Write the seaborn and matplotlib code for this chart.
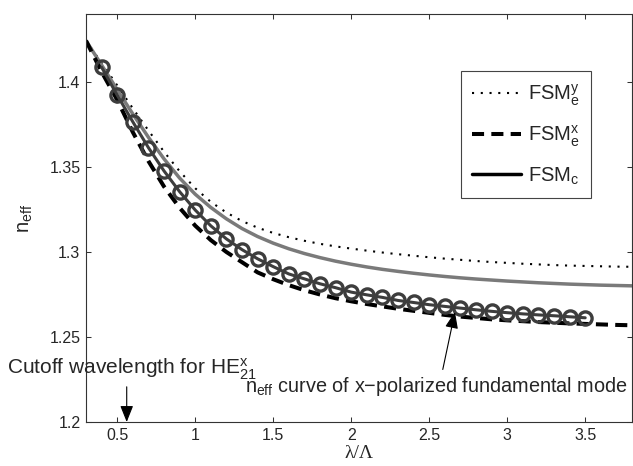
#! /usr/bin/env python3

import numpy as np
import pandas as pd
import matplotlib
matplotlib.use('Agg')
import matplotlib.pyplot as plt
from matplotlib.lines import Line2D
import seaborn as sns

# normalised wavelength lambda/Lambda
x_curve = [0.3, 0.4, 0.5, 0.6, 0.7, 0.8, 0.9, 1.0, 1.1, 1.2, 1.3, 1.4, 1.5, 1.6,
           1.7, 1.8, 1.9, 2.0, 2.1, 2.2, 2.3, 2.4, 2.5, 2.6, 2.7, 2.8, 2.9, 3.0,
           3.1, 3.2, 3.3, 3.4, 3.5, 3.6, 3.7, 3.8]
# FSM_e^y (dotted)
n_fsm_ey = [1.4243, 1.4112, 1.3980, 1.3845, 1.3715, 1.3590, 1.3475, 1.3375, 1.3295,
            1.3232, 1.3182, 1.3143, 1.3112, 1.3087, 1.3066, 1.3048, 1.3033, 1.3020,
            1.3008, 1.2997, 1.2987, 1.2978, 1.2969, 1.2961, 1.2954, 1.2947, 1.2941,
            1.2936, 1.2931, 1.2927, 1.2923, 1.2920, 1.2918, 1.2916, 1.2914, 1.2913]
# FSM_e^x (dashed)
n_fsm_ex = [1.4243, 1.4060, 1.3895, 1.3705, 1.3535, 1.3385, 1.3260, 1.3155, 1.3070,
            1.3000, 1.2940, 1.2880, 1.2840, 1.2805, 1.2775, 1.2750, 1.2728, 1.2710,
            1.2694, 1.2680, 1.2666, 1.2654, 1.2642, 1.2630, 1.2620, 1.2612, 1.2604,
            1.2598, 1.2593, 1.2588, 1.2584, 1.2580, 1.2577, 1.2574, 1.2571, 1.2569]
# FSM_c (grey solid)
n_fsm_c = [1.4243, 1.4100, 1.3955, 1.3812, 1.3675, 1.3548, 1.3435, 1.3340, 1.3262,
           1.3195, 1.3138, 1.3091, 1.3052, 1.3019, 1.2991, 1.2967, 1.2946, 1.2928,
           1.2912, 1.2898, 1.2886, 1.2875, 1.2865, 1.2856, 1.2848, 1.2841, 1.2835,
           1.2829, 1.2824, 1.2819, 1.2815, 1.2811, 1.2808, 1.2805, 1.2803, 1.2801]
# x-polarized fundamental mode (circles)
x_fund = [0.4, 0.5, 0.6, 0.7, 0.8, 0.9, 1.0, 1.1, 1.2, 1.3, 1.4, 1.5, 1.6, 1.7, 1.8,
          1.9, 2.0, 2.1, 2.2, 2.3, 2.4, 2.5, 2.6, 2.7, 2.8, 2.9, 3.0, 3.1, 3.2, 3.3,
          3.4, 3.5]
n_fund = [1.4087, 1.3923, 1.3766, 1.3614, 1.3477, 1.3355, 1.3247, 1.3154, 1.3077,
          1.3014, 1.2960, 1.2914, 1.2871, 1.2842, 1.2813, 1.2790, 1.2764, 1.2748,
          1.2733, 1.2715, 1.2703, 1.2690, 1.2680, 1.2670, 1.2660, 1.2651, 1.2643,
          1.2636, 1.2630, 1.2625, 1.2619, 1.2613]

x_ticks = [0.5, 1, 1.5, 2, 2.5, 3, 3.5]
x_ticklabels = ['0.5', '1', '1.5', '2', '2.5', '3', '3.5']
y_ticks = [1.2, 1.25, 1.3, 1.35, 1.4]
y_ticklabels = ['1.2', '1.25', '1.3', '1.35', '1.4']
legend_labels = ['FSM$_e^y$', 'FSM$_e^x$', 'FSM$_c$']

sns.set_style('ticks')
plt.rcParams['font.family'] = ['Liberation Sans', 'DejaVu Sans']
plt.rcParams['mathtext.fontset'] = 'custom'
plt.rcParams['mathtext.rm'] = 'Liberation Sans'
plt.rcParams['mathtext.it'] = 'Liberation Sans'
plt.rcParams['mathtext.bf'] = 'Liberation Sans:bold'

curves = pd.DataFrame({'x': x_curve, 'ey': n_fsm_ey, 'ex': n_fsm_ex, 'c': n_fsm_c})
fund = pd.DataFrame({'x': x_fund, 'n': n_fund})

fig = plt.figure(figsize=(6.33, 4.66), dpi=100)
ax = fig.add_axes([86 / 633, 1 - 422 / 466, (632 - 86) / 633, (422 - 14) / 466])

sns.lineplot(data=curves, x='x', y='ey', ax=ax, color='black', lw=1.5,
             linestyle=(0, (1, 3.2)), sort=False, estimator=None, errorbar=None)
sns.lineplot(data=curves, x='x', y='c', ax=ax, color='#7a7a7a', lw=2.5,
             sort=False, estimator=None, errorbar=None)
sns.lineplot(data=curves, x='x', y='ex', ax=ax, color='black', lw=2.9,
             linestyle=(0, (3, 1.8)), sort=False, estimator=None, errorbar=None)
sns.lineplot(data=fund, x='x', y='n', ax=ax, color='#3d3d3d', lw=2.2, marker='o',
             markersize=9.5, markerfacecolor='none', markeredgecolor='#3d3d3d',
             markeredgewidth=2.4, sort=False, estimator=None, errorbar=None)

ax.set_xlim(0.3, 3.8)
ax.set_ylim(1.2, 1.44)
ax.set_xticks(x_ticks)
ax.set_xticklabels(x_ticklabels)
ax.set_yticks(y_ticks)
ax.set_yticklabels(y_ticklabels)
ax.tick_params(direction='in', top=True, right=True, length=3.6, width=0.75,
               labelsize=11.5, pad=4, color='#333333')
for sp in ax.spines.values():
    sp.set_linewidth(0.8)
    sp.set_color('#333333')

ax.set_xlabel('λ/Λ', fontsize=14, family=['Liberation Serif', 'DejaVu Serif'], labelpad=1.5)
ax.set_ylabel('n$_{\\mathrm{eff}}$', fontsize=14.5, labelpad=10)

# annotations
ax.text(-0.2045, 1.2281, 'Cutoff wavelength for HE$^{x}_{21}$', fontsize=15,
        va='baseline', ha='left')
ax.text(1.319, 1.2176, 'n$_{\\mathrm{eff}}$ curve of x\u2212polarized fundamental mode',
        fontsize=14.3, va='baseline', ha='left')
ax.annotate('', xy=(0.561, 1.2), xytext=(0.561, 1.2207),
            arrowprops=dict(arrowstyle='-|>,head_length=0.5,head_width=0.2', color='black',
                            lw=0.8, shrinkA=0, shrinkB=0, mutation_scale=20))
ax.annotate('', xy=(2.665, 1.2647), xytext=(2.587, 1.2309),
            arrowprops=dict(arrowstyle='-|>,head_length=0.5,head_width=0.2', color='black',
                            lw=0.8, shrinkA=0, shrinkB=0, mutation_scale=20))

handles = [Line2D([], [], color='black', lw=1.5, linestyle=(0, (1, 3.2))),
           Line2D([], [], color='black', lw=2.9, linestyle=(0, (3, 1.8))),
           Line2D([], [], color='black', lw=2.5)]
leg = ax.legend(handles, legend_labels, loc='upper left',
                bbox_to_anchor=(461 / 633, 1 - 71 / 466), bbox_transform=fig.transFigure,
                borderaxespad=0, fontsize=14.5, handlelength=2.45, handletextpad=0.35,
                borderpad=0.55, labelspacing=0.8, fancybox=False, framealpha=1,
                edgecolor='#444444')
leg.get_frame().set_linewidth(0.8)

fig.savefig('out.png', dpi=100)
